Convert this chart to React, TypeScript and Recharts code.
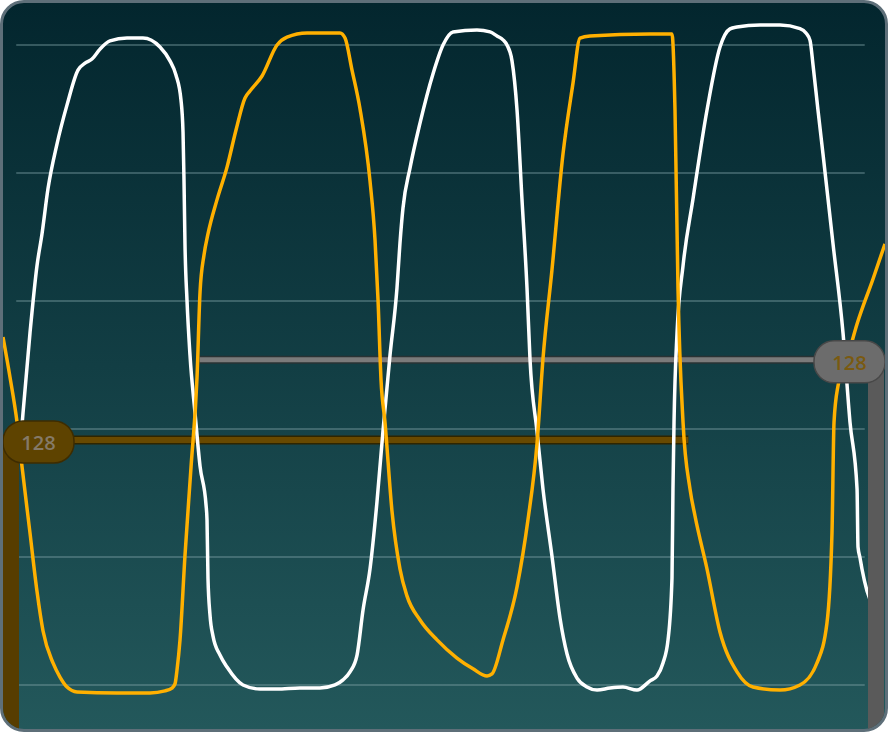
import React from "react";
import { LineChart, Line, XAxis, YAxis, ReferenceLine } from "recharts";

// time axis (0..100 across the screen) and level axis (0..250 grid)
const whiteTime = [1.93, 2.27, 3.06, 3.85, 4.42, 5.1, 6.12, 7.26, 8.5, 9.3, 10.09, 11.0, 12.13, 14.06, 15.87, 17.8, 18.93, 19.61, 20.18, 20.41, 20.52, 20.63, 20.86, 21.2, 21.77, 22.34, 23.02, 23.13, 23.24, 23.47, 23.81, 24.6, 25.4, 27.21, 29.14, 31.07, 33.67, 35.94, 37.64, 38.55, 39.34, 40.14, 40.82, 41.61, 42.4, 43.08, 43.88, 44.67, 45.01, 45.35, 46.15, 47.28, 48.75, 49.89, 51.02, 53.74, 55.22, 56.01, 56.69, 57.14, 57.71, 58.28, 58.84, 59.41, 59.75, 60.54, 61.22, 62.24, 63.15, 63.95, 65.08, 66.21, 67.35, 68.82, 70.29, 71.88, 73.36, 74.15, 74.83, 75.4, 75.85, 75.96, 76.08, 76.42, 77.1, 78.23, 79.82, 81.29, 82.43, 83.22, 85.83, 88.1, 90.36, 91.04, 91.5, 91.84, 92.4, 92.97, 94.1, 95.24, 96.03, 96.83, 96.94, 97.17, 97.39, 97.96, 98.87];
const whiteLevel = [91.8, 106.3, 137.5, 163.7, 176.2, 193.8, 211.3, 226.6, 240.2, 242.9, 244.5, 248.4, 251.6, 252.7, 252.7, 249.2, 243.8, 238.3, 228.5, 216.0, 197.3, 172.7, 150.4, 128.9, 106.3, 85.5, 70.3, 64.5, 41.8, 27.3, 19.1, 11.7, 7.0, 0.0, -1.6, -1.6, -1.2, -1.2, 0.0, 2.0, 5.1, 11.7, 29.3, 45.3, 71.5, 99.2, 128.9, 155.1, 172.7, 186.3, 202.0, 219.5, 238.7, 250.0, 255.1, 255.9, 255.1, 253.5, 252.0, 250.0, 243.8, 224.6, 189.8, 155.1, 127.3, 99.2, 76.6, 50.4, 26.2, 12.1, 2.7, -0.8, -2.0, -1.2, -0.8, -2.0, 1.6, 3.5, 8.6, 17.6, 41.8, 76.6, 102.7, 137.5, 163.7, 189.8, 224.6, 249.2, 256.3, 257.0, 257.8, 257.8, 256.4, 254.7, 251.8, 242.2, 224.6, 207.4, 172.5, 137.5, 102.7, 76.6, 53.9, 49.6, 45.3, 36.7, 29.3];

const orangeTime = [0.0, 0.79, 1.59, 2.15, 3.06, 3.85, 4.54, 5.67, 6.46, 7.26, 8.39, 12.93, 16.67, 18.37, 19.16, 19.5, 19.73, 20.07, 20.63, 21.32, 22.0, 22.34, 22.79, 23.24, 24.26, 25.4, 26.42, 27.44, 28.0, 29.37, 31.07, 32.2, 34.47, 38.21, 38.78, 39.57, 40.48, 41.61, 42.18, 42.52, 42.86, 43.31, 44.1, 45.01, 45.8, 47.28, 49.21, 51.47, 53.29, 54.88, 55.44, 56.69, 58.28, 59.52, 60.54, 61.22, 62.24, 63.49, 64.63, 65.42, 66.55, 73.36, 75.85, 76.19, 76.53, 77.1, 77.89, 78.46, 79.82, 81.29, 83.22, 85.03, 88.1, 90.36, 92.29, 93.42, 93.99, 94.22, 94.67, 95.69, 96.83, 98.64, 100.0];
const orangeLevel = [135.9, 120.3, 102.7, 85.5, 59.4, 36.7, 21.1, 8.6, 3.1, -0.8, -2.7, -3.1, -3.1, -2.3, -1.2, 0.4, 5.9, 17.6, 50.4, 85.2, 120.3, 153.5, 168.0, 176.2, 189.5, 202.3, 216.8, 229.3, 232.0, 237.9, 250.0, 253.1, 254.7, 254.7, 252.7, 240.2, 225.0, 196.9, 173.8, 150.4, 119.1, 102.7, 68.0, 45.3, 34.8, 25.4, 17.6, 10.5, 6.3, 3.5, 4.3, 17.6, 38.3, 64.5, 94.1, 127.3, 162.1, 207.4, 235.2, 252.7, 253.5, 254.3, 254.3, 224.6, 155.1, 102.7, 76.6, 66.0, 45.3, 20.7, 5.1, -0.8, -2.0, 0.0, 8.6, 24.2, 59.4, 102.7, 116.8, 127.3, 141.0, 158.6, 172.3];

const gridLevels = [0, 50, 100, 150, 200, 250];
const gridSpan = [1.5, 97.7];
const timeDomain = [0, 100];
const levelDomain = [-17.2, 266.4];

const grayMarkerLevel = 127;
const grayMarkerSpan = [22.3, 100];
const grayMarkerLabel = "128";
const orangeMarkerLevel = 95.7;
const orangeMarkerSpan = [0, 77.7];
const orangeMarkerLabel = "128";

const whiteData = whiteTime.map((t, i) => ({ t, v: whiteLevel[i] }));
const orangeData = orangeTime.map((t, i) => ({ t, v: orangeLevel[i] }));

const makeBadge = (opts: {
  side: "left" | "right";
  text: string;
  fill: string;
  stroke: string;
  textColor: string;
  barColor: string;
  barWidth: number;
  barInset: number;
}) => (props: any) => {
  const vb = props.viewBox || {};
  const w = 71;
  const h = 42;
  const cy = vb.y + 2;
  const bx = opts.side === "left" ? vb.x : vb.x + vb.width - w;
  const barX = opts.side === "left" ? vb.x + opts.barInset : vb.x + vb.width - opts.barWidth - opts.barInset;
  return (
    <g>
      <rect x={barX} y={cy} width={opts.barWidth} height={2000} fill={opts.barColor} />
      <rect x={bx} y={cy - h / 2} width={w} height={h} rx={20} ry={20} fill={opts.fill} stroke={opts.stroke} strokeWidth={1.5} />
      <text
        x={bx + w / 2}
        y={cy + 1}
        textAnchor="middle"
        dominantBaseline="central"
        fontFamily="'Open Sans', 'Noto Sans', sans-serif"
        fontWeight={600}
        fontSize={20}
        fill={opts.textColor}
      >
        {opts.text}
      </text>
    </g>
  );
};

const leftBadge = makeBadge({
  side: "left",
  text: orangeMarkerLabel,
  fill: "#5e4300",
  stroke: "#3e2c00",
  textColor: "#857a68",
  barColor: "#573d00",
  barWidth: 16,
  barInset: 0,
});

const rightBadge = makeBadge({
  side: "right",
  text: grayMarkerLabel,
  fill: "#6c6c6c",
  stroke: "#484848",
  textColor: "#7a5a10",
  barColor: "#5a5a5a",
  barWidth: 16,
  barInset: 1,
});

export default function App() {
  return (
    <div
      style={{
        position: "absolute",
        left: 0,
        top: 0,
        width: 888,
        height: 732,
        boxSizing: "border-box",
        border: "3px solid #5e6f79",
        borderRadius: 24,
        overflow: "hidden",
        background: "linear-gradient(to bottom, #03262e 0%, #123e44 50%, #23585b 100%)",
      }}
    >
      <LineChart width={882} height={726} margin={{ top: 0, right: 0, bottom: 0, left: 0 }}>
        <XAxis type="number" dataKey="t" domain={timeDomain} allowDataOverflow hide />
        <YAxis type="number" dataKey="v" domain={levelDomain} allowDataOverflow hide />
        {gridLevels.map((g) => (
          <ReferenceLine
            key={"g" + g}
            segment={[{ x: gridSpan[0], y: g }, { x: gridSpan[1], y: g }]}
            stroke="#7fa3a6"
            strokeOpacity={0.55}
            strokeWidth={1.5}
            zIndex={-100}
          />
        ))}
        <ReferenceLine
          segment={[{ x: grayMarkerSpan[0], y: grayMarkerLevel }, { x: grayMarkerSpan[1], y: grayMarkerLevel }]}
          stroke="#2a3334"
          strokeWidth={8}
          zIndex={300}
        />
        <ReferenceLine
          segment={[{ x: grayMarkerSpan[0], y: grayMarkerLevel }, { x: grayMarkerSpan[1], y: grayMarkerLevel }]}
          stroke="#7b7b7b"
          strokeWidth={5}
          zIndex={300}
        />
        <ReferenceLine
          segment={[{ x: orangeMarkerSpan[0], y: orangeMarkerLevel }, { x: orangeMarkerSpan[1], y: orangeMarkerLevel }]}
          stroke="#2e2500"
          strokeWidth={9}
          zIndex={300}
        />
        <ReferenceLine
          segment={[{ x: orangeMarkerSpan[0], y: orangeMarkerLevel }, { x: orangeMarkerSpan[1], y: orangeMarkerLevel }]}
          stroke="#684900"
          strokeWidth={6}
          zIndex={300}
        />
        <Line
          data={whiteData}
          dataKey="v"
          type="monotone"
          stroke="#ffffff"
          strokeWidth={3.5}
          dot={false}
          activeDot={false}
          isAnimationActive={false}
        />
        <Line
          data={orangeData}
          dataKey="v"
          type="monotone"
          stroke="#ffb000"
          strokeWidth={3.5}
          dot={false}
          activeDot={false}
          isAnimationActive={false}
        />
        <ReferenceLine
          segment={[{ x: orangeMarkerSpan[0], y: orangeMarkerLevel }, { x: orangeMarkerSpan[1], y: orangeMarkerLevel }]}
          stroke="none"
          strokeWidth={0}
          zIndex={1500}
          label={leftBadge}
        />
        <ReferenceLine
          segment={[{ x: grayMarkerSpan[0], y: grayMarkerLevel }, { x: grayMarkerSpan[1], y: grayMarkerLevel }]}
          stroke="none"
          strokeWidth={0}
          zIndex={1500}
          label={rightBadge}
        />
      </LineChart>
    </div>
  );
}
